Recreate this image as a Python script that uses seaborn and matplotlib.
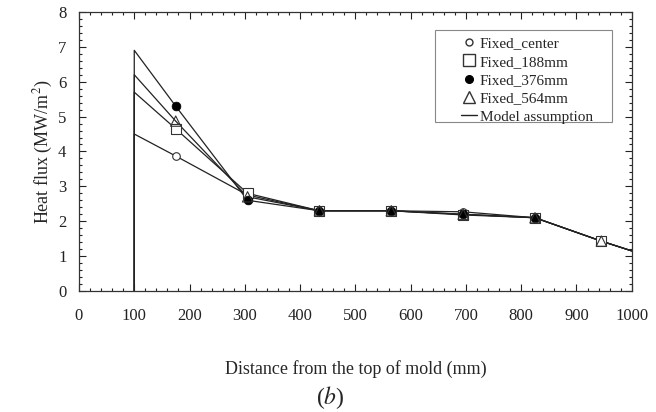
import matplotlib
matplotlib.use("Agg")
import matplotlib.pyplot as plt
import seaborn as sns
import pandas as pd
from matplotlib.ticker import MultipleLocator
from matplotlib.lines import Line2D
from matplotlib.patches import Rectangle

sns.set_theme(style="ticks")
plt.rcParams['font.family'] = ['Liberation Serif', 'DejaVu Serif']
plt.rcParams['mathtext.fontset'] = 'stix'

# model assumption lines (start at x=100)
line_x = [100, 100, 175, 305, 435, 565, 695, 825, 945, 1000]
line_center = [0, 4.5, 3.87, 2.75, 2.30, 2.30, 2.27, 2.10, 1.43, 1.15]
line_188 = [0, 5.7, 4.65, 2.80, 2.30, 2.30, 2.18, 2.10, 1.43, 1.15]
line_376 = [0, 6.9, 5.30, 2.60, 2.30, 2.30, 2.20, 2.10, 1.43, 1.15]
line_564 = [0, 6.2, 4.87, 2.70, 2.30, 2.30, 2.20, 2.10, 1.43, 1.15]

# measured points
pt_x6 = [175, 305, 435, 565, 695, 825]
pt_x7 = [175, 305, 435, 565, 695, 825, 945]
pt_center = [3.87, 2.75, 2.30, 2.30, 2.27, 2.10]
pt_188 = [4.65, 2.80, 2.30, 2.30, 2.18, 2.10, 1.43]
pt_376 = [5.30, 2.60, 2.30, 2.30, 2.20, 2.10]
pt_564 = [4.87, 2.70, 2.30, 2.30, 2.20, 2.10, 1.43]

W, H = 656, 412
fig = plt.figure(figsize=(6.56, 4.12), dpi=100)
ax = fig.add_axes([0.1204, 0.2937, 0.8426, 0.6773])

lines = pd.DataFrame({
    'x': line_x * 4,
    'y': line_center + line_188 + line_376 + line_564,
    's': ['c'] * 10 + ['a'] * 10 + ['b'] * 10 + ['d'] * 10,
})
for s, g in lines.groupby('s'):
    sns.lineplot(data=g, x='x', y='y', sort=False, estimator=None, ax=ax,
                 color='#222222', lw=0.9, legend=False)

kw = dict(ax=ax, legend=False, zorder=5)
sns.scatterplot(x=pt_x6, y=pt_center, marker='o', s=30, facecolor='white',
                edgecolor='#333333', linewidth=0.8, **kw)
sns.scatterplot(x=pt_x7, y=pt_188, marker='s', s=60, facecolor='white',
                edgecolor='#333333', linewidth=0.8, **kw)
sns.scatterplot(x=pt_x6, y=pt_376, marker='o', s=40, color='black',
                edgecolor='black', linewidth=0.5, **kw)
sns.scatterplot(x=pt_x7, y=pt_564, marker='^', s=55, facecolor='none',
                edgecolor='#333333', linewidth=0.8, **kw)

ax.set_xlim(0, 1000)
ax.set_ylim(0, 8)
ax.xaxis.set_major_locator(MultipleLocator(100))
ax.xaxis.set_minor_locator(MultipleLocator(20))
ax.yaxis.set_major_locator(MultipleLocator(1))
ax.yaxis.set_minor_locator(MultipleLocator(0.2))
ax.tick_params(which='both', direction='in', top=True, right=True,
               labelsize=12, colors='#222222', width=0.8)
ax.tick_params(which='major', length=5)
ax.tick_params(which='minor', length=2.5)
for sp in ax.spines.values():
    sp.set_linewidth(0.9)
    sp.set_color('#333333')
ax.tick_params(axis='x', pad=12)
ax.tick_params(axis='y', pad=9)

ax.set_xlabel('Distance from the top of mold (mm)', fontsize=13, labelpad=26)
ax.set_ylabel('Heat flux (MW/m$^2$)', fontsize=13, labelpad=2)

handles = [
    Line2D([], [], ls='none', marker='o', ms=5, mfc='white', mec='#333333'),
    Line2D([], [], ls='none', marker='s', ms=8.5, mfc='white', mec='#333333'),
    Line2D([], [], ls='none', marker='o', ms=5.5, mfc='black', mec='black'),
    Line2D([], [], ls='none', marker='^', ms=8, mfc='white', mec='#333333'),
    Line2D([], [], color='#222222', lw=1),
]
labels = ['Fixed_center', 'Fixed_188mm', 'Fixed_376mm', 'Fixed_564mm', 'Model assumption']
ax.add_patch(Rectangle((435 / W, 1 - 122 / H), 177 / W, 92 / H,
                       transform=fig.transFigure, fill=True, facecolor='white',
                       edgecolor='#888888', lw=0.8, zorder=8, clip_on=False))
leg = ax.legend(handles, labels, loc='upper left',
                bbox_to_anchor=(450 / W, 1 - 26 / H), bbox_transform=fig.transFigure,
                fontsize=11, frameon=False, handlelength=1.05, handletextpad=0.2,
                borderpad=0.2, labelspacing=0.3)
leg.set_zorder(10)

fig.text(0.503, 0.035, '($\\it{b}$)', fontsize=17, ha='center', va='center')

fig.savefig('out.png', dpi=100)
